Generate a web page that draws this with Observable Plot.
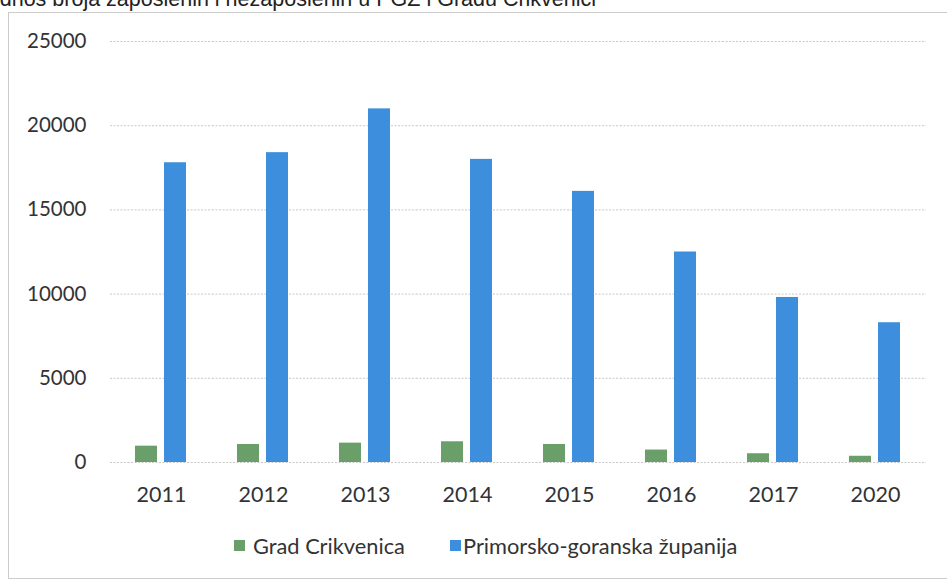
<!DOCTYPE html>
<html>
<head>
<meta charset="utf-8">
<script src="https://cdn.jsdelivr.net/npm/d3@7"></script>
<script src="https://cdn.jsdelivr.net/npm/@observablehq/plot@0.6"></script>
<style>
  html, body { margin: 0; padding: 0; background: #fff; }
  #page { position: relative; width: 947px; height: 581px; overflow: hidden; background: #fff; }
  #title { position: absolute; left: -17px; top: -11px; font-family: "Liberation Sans", Arial, sans-serif; font-size: 21.5px; line-height: 21.5px; color: #222; white-space: nowrap; }
  #frame { position: absolute; left: 8px; top: 12px; width: 950px; height: 567px; border: 1px solid #cccccc; box-sizing: border-box; }
  #chart { position: absolute; left: 0; top: 0; }
  #legend { position: absolute; top: 533px; left: 0; width: 947px; height: 24px; font-family: Lato, "Open Sans", sans-serif; font-size: 21.8px; color: #333; }
  .item { position: absolute; top: 0; height: 24px; display: flex; align-items: center; white-space: nowrap; }
  .sw { width: 11px; height: 11px; display: inline-block; }
</style>
</head>
<body>
<div id="page">
  <div id="frame"></div>
  <div id="title">Odnos broja zaposlenih i nezaposlenih u PGŽ i Gradu Crikvenici</div>
  <div id="chart"></div>
  <div id="legend"></div>
</div>
<script>
const years = ["2011", "2012", "2013", "2014", "2015", "2016", "2017", "2020"];
const seriesNames = ["Grad Crikvenica", "Primorsko-goranska županija"];
const gradCrikvenica = [970, 1070, 1150, 1230, 1070, 740, 520, 370];
const primorskoGoranska = [17800, 18400, 21000, 18000, 16100, 12500, 9800, 8300];
const yTicks = [0, 5000, 10000, 15000, 20000, 25000];
const colors = ["#6a9f6a", "#3d8fde"];

const data = [];
years.forEach((y, i) => {
  data.push({year: y, series: seriesNames[0], value: gradCrikvenica[i]});
  data.push({year: y, series: seriesNames[1], value: primorskoGoranska[i]});
});

const chart = Plot.plot({
  width: 947,
  height: 510,
  marginTop: 41,
  marginBottom: 48,
  marginLeft: 107,
  marginRight: 18,
  style: {fontFamily: "Lato, 'Open Sans', sans-serif", fontSize: "20.5px", color: "#333", background: "transparent"},
  fx: {domain: years, padding: 0, label: null, axis: null},
  x: {domain: seriesNames, paddingInner: 0.24, paddingOuter: 0.85, axis: null},
  y: {domain: [0, 25000], axis: null},
  color: {domain: seriesNames, range: colors},
  marks: [
    Plot.gridY(yTicks, {stroke: "#999", strokeOpacity: 0.55, strokeDasharray: "2 1.5"}),
    Plot.axisY(yTicks, {tickFormat: d3.format("d"), tickSize: 0, tickPadding: 24, label: null, fontSize: "20.5px", facetAnchor: "left"}),
    Plot.axisFx({anchor: "bottom", tickSize: 0, tickPadding: 24, label: null, fontSize: "21.5px"}),
    Plot.barY(data, {fx: "year", x: "series", y: "value", fill: "series"})
  ]
});
document.getElementById("chart").appendChild(chart);

const legend = document.getElementById("legend");
const swLefts = [234, 450];
const txtLefts = [253, 463];
seriesNames.forEach((name, i) => {
  const sw = document.createElement("div");
  sw.className = "item";
  sw.style.left = swLefts[i] + "px";
  const box = document.createElement("span");
  box.className = "sw";
  box.style.background = colors[i];
  sw.appendChild(box);
  legend.appendChild(sw);
  const t = document.createElement("div");
  t.className = "item";
  t.style.left = txtLefts[i] + "px";
  t.textContent = name;
  legend.appendChild(t);
});
</script>
</body>
</html>
